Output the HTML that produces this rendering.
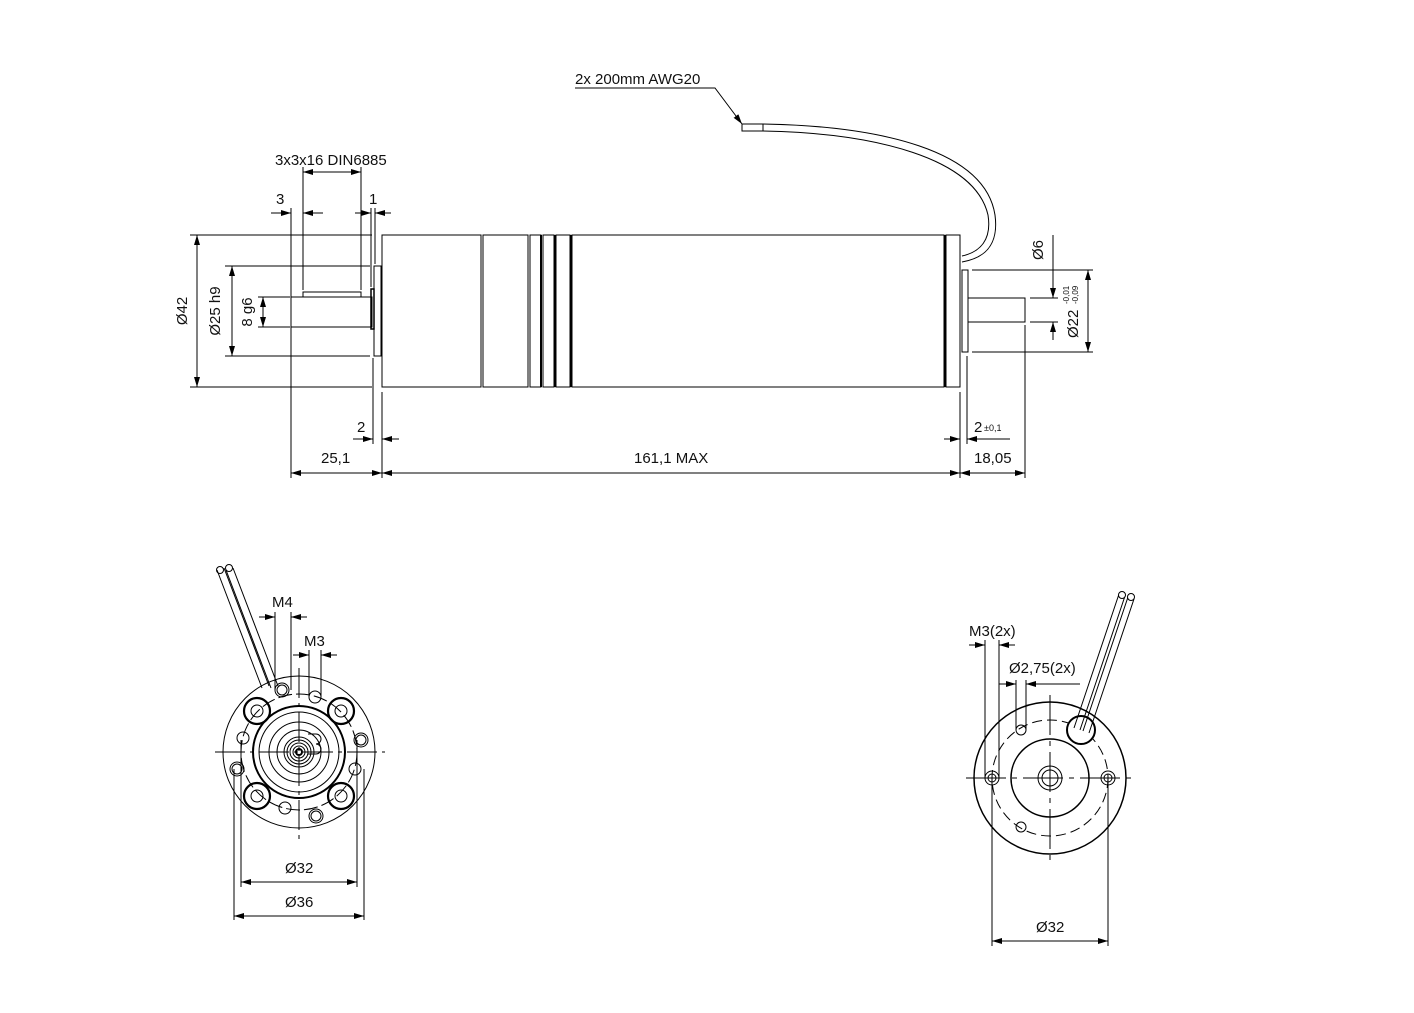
<!DOCTYPE html>
<html><head><meta charset="utf-8"><style>
html,body{margin:0;padding:0;background:#fff}
svg{display:block}
text{font-family:"Liberation Sans",Arial,sans-serif;font-size:15px;fill:#111}
</style></head><body>
<svg width="1414" height="1013" viewBox="0 0 1414 1013" xmlns="http://www.w3.org/2000/svg">
<defs>
<marker id="a" viewBox="0 0 10 6" refX="10" refY="3" markerWidth="10" markerHeight="6" orient="auto-start-reverse" markerUnits="userSpaceOnUse"><path d="M0,0L10,3L0,6z" fill="#000"/></marker>
</defs>
<g fill="none" stroke="#000" stroke-width="1">
<rect x="382" y="235" width="99" height="152"/>
<rect x="483" y="235" width="45" height="152"/>
<rect x="530" y="235" width="11" height="152"/>
<rect x="543" y="235" width="11" height="152"/>
<rect x="556" y="235" width="14" height="152"/>
<rect x="572" y="235" width="372" height="152"/>
<rect x="946" y="235" width="14" height="152"/>
<line x1="541" y1="235" x2="541" y2="387" stroke-width="2"/>
<line x1="555" y1="235" x2="555" y2="387" stroke-width="2"/>
<line x1="571" y1="235" x2="571" y2="387" stroke-width="2"/>
<line x1="945" y1="235" x2="945" y2="387" stroke-width="2"/>
<rect x="962" y="270" width="6" height="82"/>
<rect x="968" y="298" width="57" height="24"/>
<rect x="374" y="266" width="7" height="90"/>
<rect x="291" y="297" width="81" height="30"/>
<rect x="303" y="292" width="58" height="5"/>
<rect x="371" y="289" width="3" height="40" stroke-width="1.5"/>
<rect x="742" y="124" width="21" height="7"/>
<path d="M763,124 C880,126 985,150 995,215 C999,245 985,258 962,262"/>
<path d="M763,131 C875,133 975,158 988,215 C992,240 980,252 962,256"/>
<path d="M575,88 H715 L742,124" marker-end="url(#a)"/>
<line x1="190" y1="235" x2="372" y2="235"/>
<line x1="190" y1="387" x2="372" y2="387"/>
<line x1="197" y1="235" x2="197" y2="387" marker-start="url(#a)" marker-end="url(#a)"/>
<line x1="225" y1="266" x2="370" y2="266"/>
<line x1="225" y1="356" x2="370" y2="356"/>
<line x1="232" y1="266" x2="232" y2="356" marker-start="url(#a)" marker-end="url(#a)"/>
<line x1="258" y1="297" x2="290" y2="297"/>
<line x1="258" y1="327" x2="290" y2="327"/>
<line x1="263" y1="297" x2="263" y2="327" marker-start="url(#a)" marker-end="url(#a)"/>
<line x1="303" y1="167" x2="303" y2="290"/>
<line x1="361" y1="167" x2="361" y2="290"/>
<line x1="303" y1="172" x2="361" y2="172" marker-start="url(#a)" marker-end="url(#a)"/>
<line x1="291" y1="208" x2="291" y2="478"/>
<line x1="271" y1="213" x2="291" y2="213" marker-end="url(#a)"/>
<line x1="323" y1="213" x2="303" y2="213" marker-end="url(#a)"/>
<line x1="371" y1="208" x2="371" y2="287"/>
<line x1="375" y1="208" x2="375" y2="264"/>
<line x1="355" y1="213" x2="371" y2="213" marker-end="url(#a)"/>
<line x1="391" y1="213" x2="375" y2="213" marker-end="url(#a)"/>
<line x1="373" y1="358" x2="373" y2="444"/>
<line x1="382" y1="392" x2="382" y2="478"/>
<line x1="353" y1="439" x2="373" y2="439" marker-end="url(#a)"/>
<line x1="399" y1="439" x2="382" y2="439" marker-end="url(#a)"/>
<line x1="291" y1="473" x2="382" y2="473" marker-start="url(#a)" marker-end="url(#a)"/>
<line x1="382" y1="473" x2="960" y2="473" marker-start="url(#a)" marker-end="url(#a)"/>
<line x1="960" y1="473" x2="1025" y2="473" marker-start="url(#a)" marker-end="url(#a)"/>
<line x1="960" y1="392" x2="960" y2="478"/>
<line x1="967" y1="356" x2="967" y2="444"/>
<line x1="1025" y1="325" x2="1025" y2="478"/>
<line x1="944" y1="439" x2="960" y2="439" marker-end="url(#a)"/>
<line x1="1010" y1="439" x2="967" y2="439"/>
<line x1="984" y1="439" x2="967" y2="439" marker-end="url(#a)"/>
<line x1="972" y1="270" x2="1093" y2="270"/>
<line x1="972" y1="352" x2="1093" y2="352"/>
<line x1="1088" y1="270" x2="1088" y2="352" marker-start="url(#a)" marker-end="url(#a)"/>
<line x1="1030" y1="298" x2="1058" y2="298"/>
<line x1="1030" y1="322" x2="1058" y2="322"/>
<line x1="1053" y1="235" x2="1053" y2="298" />
<line x1="1053" y1="280" x2="1053" y2="298" marker-end="url(#a)"/>
<line x1="1053" y1="340" x2="1053" y2="322" marker-end="url(#a)"/>
<circle cx="299" cy="752" r="76"/>
<circle cx="299" cy="752" r="58" stroke-dasharray="14,4"/>
<circle cx="299" cy="752" r="46" stroke-width="2"/>
<circle cx="299" cy="752" r="40"/>
<circle cx="299" cy="752" r="30"/>
<circle cx="299" cy="752" r="22"/>
<circle cx="299" cy="752" r="15"/>
<circle cx="299" cy="752" r="12"/>
<circle cx="299" cy="752" r="9"/>
<circle cx="299" cy="752" r="6"/>
<circle cx="299" cy="752" r="3" stroke-width="2"/>
<path d="M308,734 h8 a5,5 0 0 1 0,10 a5,5 0 0 1 0,10 h-8"/>
<g stroke-width="2.2">
<circle cx="257" cy="711" r="13"/><circle cx="341" cy="711" r="13"/>
<circle cx="257" cy="796" r="13"/><circle cx="341" cy="796" r="13"/>
</g>
<circle cx="257" cy="711" r="6"/><circle cx="341" cy="711" r="6"/>
<circle cx="257" cy="796" r="6"/><circle cx="341" cy="796" r="6"/>
<g>
<circle cx="282" cy="690" r="7"/><circle cx="282" cy="690" r="5"/>
<circle cx="315" cy="697" r="6"/>
<circle cx="243" cy="738" r="6"/>
<circle cx="361" cy="740" r="7"/><circle cx="361" cy="740" r="5"/>
<circle cx="237" cy="769" r="7"/><circle cx="237" cy="769" r="5"/>
<circle cx="355" cy="769" r="6"/>
<circle cx="285" cy="808" r="6"/>
<circle cx="316" cy="816" r="7"/><circle cx="316" cy="816" r="5"/>
</g>
<line x1="215" y1="752" x2="385" y2="752" stroke-dasharray="30,5,4,5"/>
<line x1="299" y1="668" x2="299" y2="840" stroke-dasharray="30,5,4,5"/>
<path d="M217,570 L262,688 M224,568 L269,686 M226,570 L271,688 M233,568 L278,686"/>
<circle cx="220" cy="570" r="3.5"/><circle cx="229" cy="568" r="3.5"/>
<line x1="275" y1="612" x2="275" y2="690"/>
<line x1="291" y1="612" x2="291" y2="690"/>
<line x1="259" y1="617" x2="275" y2="617" marker-end="url(#a)"/>
<line x1="307" y1="617" x2="291" y2="617" marker-end="url(#a)"/>
<line x1="309" y1="650" x2="309" y2="697"/>
<line x1="321" y1="650" x2="321" y2="697"/>
<line x1="293" y1="655" x2="309" y2="655" marker-end="url(#a)"/>
<line x1="337" y1="655" x2="321" y2="655" marker-end="url(#a)"/>
<line x1="241" y1="740" x2="241" y2="887"/>
<line x1="357" y1="740" x2="357" y2="887"/>
<line x1="234" y1="769" x2="234" y2="920"/>
<line x1="364" y1="769" x2="364" y2="920"/>
<line x1="241" y1="882" x2="357" y2="882" marker-start="url(#a)" marker-end="url(#a)"/>
<line x1="234" y1="916" x2="364" y2="916" marker-start="url(#a)" marker-end="url(#a)"/>
<circle cx="1050" cy="778" r="76" stroke-width="1.5"/>
<circle cx="1050" cy="778" r="58" stroke-dasharray="10,5"/>
<circle cx="1050" cy="778" r="39" stroke-width="1.5"/>
<circle cx="1050" cy="778" r="12"/>
<circle cx="1050" cy="778" r="8"/>
<circle cx="992" cy="778" r="7"/><circle cx="992" cy="778" r="4"/>
<circle cx="1108" cy="778" r="7"/><circle cx="1108" cy="778" r="4"/>
<circle cx="1021" cy="730" r="5"/><circle cx="1021" cy="827" r="5"/>
<line x1="966" y1="778" x2="1134" y2="778" stroke-dasharray="40,6,5,6"/>
<line x1="1050" y1="695" x2="1050" y2="862" stroke-dasharray="40,6,5,6"/>
<circle cx="1081" cy="730" r="14" stroke-width="2" fill="#fff"/>
<path d="M1074,728 L1119,594 M1080,730 L1125,596 M1083,731 L1128,597 M1089,733 L1134,599"/>
<circle cx="1122" cy="595" r="3.5" fill="#fff"/><circle cx="1131" cy="597" r="3.5" fill="#fff"/>
<line x1="985" y1="640" x2="985" y2="778"/>
<line x1="999" y1="640" x2="999" y2="778"/>
<line x1="969" y1="645" x2="985" y2="645" marker-end="url(#a)"/>
<line x1="1015" y1="645" x2="999" y2="645" marker-end="url(#a)"/>
<line x1="1016" y1="680" x2="1016" y2="730"/>
<line x1="1026" y1="680" x2="1026" y2="730"/>
<line x1="999" y1="684" x2="1016" y2="684" marker-end="url(#a)"/>
<line x1="1080" y1="684" x2="1026" y2="684"/>
<line x1="1043" y1="684" x2="1026" y2="684" marker-end="url(#a)"/>
<line x1="992" y1="778" x2="992" y2="946"/>
<line x1="1108" y1="778" x2="1108" y2="946"/>
<line x1="992" y1="941" x2="1108" y2="941" marker-start="url(#a)" marker-end="url(#a)"/>
</g>
<text x="575" y="84">2x 200mm AWG20</text>
<text x="275" y="165">3x3x16 DIN6885</text>
<text x="276" y="204">3</text>
<text x="369" y="204">1</text>
<text x="357" y="432">2</text>
<text x="321" y="463">25,1</text>
<text x="634" y="463">161,1 MAX</text>
<text x="974" y="463">18,05</text>
<text x="974" y="432">2</text><text x="984" y="431" style="font-size:9px">±0,1</text>
<text transform="translate(187,311) rotate(-90)" text-anchor="middle">Ø42</text>
<text transform="translate(220,311) rotate(-90)" text-anchor="middle">Ø25 h9</text>
<text transform="translate(252,312) rotate(-90)" text-anchor="middle">8 g6</text>
<text transform="translate(1043,250) rotate(-90)" text-anchor="middle">Ø6</text>
<text transform="translate(1078,338) rotate(-90)">Ø22</text>
<text transform="translate(1069,304) rotate(-90)" style="font-size:8px">-0,01</text>
<text transform="translate(1078,304) rotate(-90)" style="font-size:8px">-0,09</text>
<text x="272" y="607">M4</text>
<text x="304" y="646">M3</text>
<text x="285" y="873">Ø32</text>
<text x="285" y="907">Ø36</text>
<text x="969" y="636">M3(2x)</text>
<text x="1009" y="673">Ø2,75(2x)</text>
<text x="1036" y="932">Ø32</text>
</svg>
</body></html>
